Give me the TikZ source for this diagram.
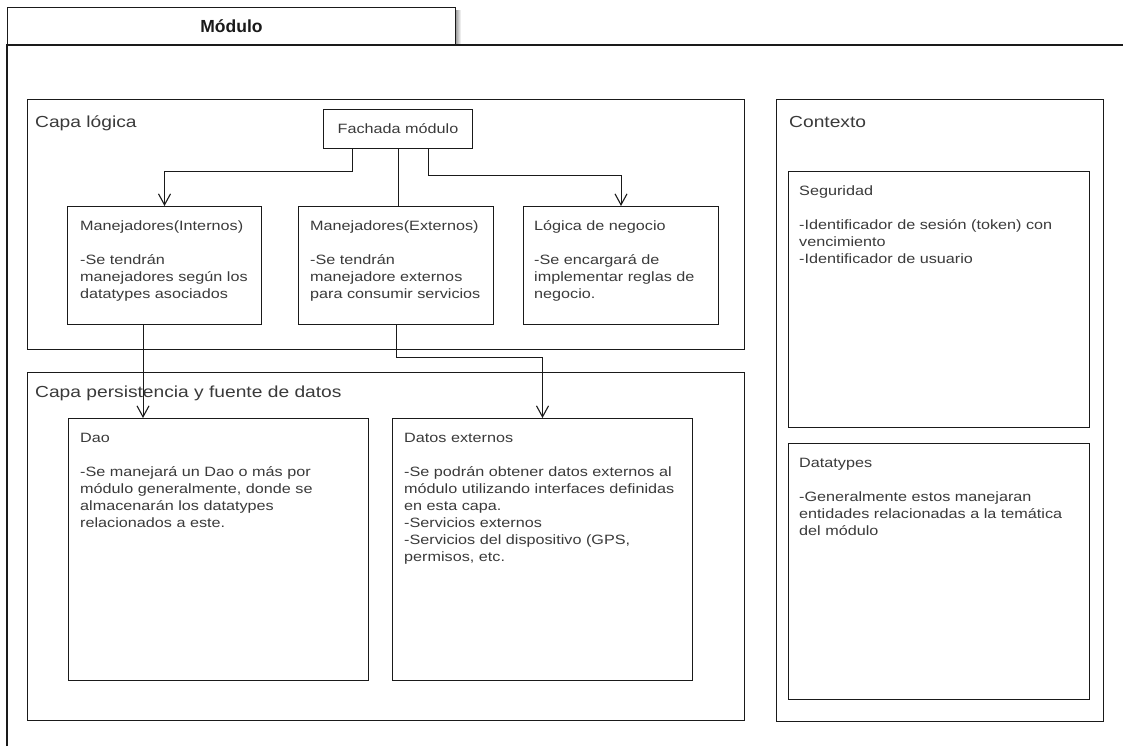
\documentclass[tikz,border=0pt]{standalone}
\usepackage{fontspec}
\setmainfont{Liberation Sans}[FakeStretch=1.2]
\newfontfamily\tabfont{Liberation Sans}
\usetikzlibrary{arrows.meta}

\definecolor{ink}{HTML}{1A1A1A}
\definecolor{txt}{HTML}{3A3A3A}

% multi-line block whose reference point is the first baseline
\newcommand\boxlines[1]{\vtop{\hsize=400pt\parindent=0pt\baselineskip=17pt\raggedright\leavevmode #1\par}}

\tikzset{
  frame/.style={draw=ink, line width=1pt, fill=white, inner sep=0pt, anchor=north west},
  body/.style={anchor=base west, inner sep=0pt, text=txt, font=\fontsize{13.5}{17}\selectfont},
  heading/.style={anchor=base west, inner sep=0pt, text=txt, font=\fontsize{16}{19}\selectfont},
  link/.style={draw=ink, line width=1pt},
  arr/.style={link, -{Straight Barb[length=11pt,width=12pt,line width=1.1pt]}},
}

\begin{document}
\begin{tikzpicture}[x=1pt, y=-1pt]
\useasboundingbox (0,0) rectangle (1123,746);

% module frame with its tab
\shade[left color=black!40, right color=white] (455.5,11) rectangle (461,45);
\node[frame, minimum width=448, minimum height=38] (tab) at (7,7) {};
\node[font=\tabfont\bfseries\fontsize{17.5}{20}\selectfont, text=ink] (tabtitle) at (tab.center) {Módulo};
\coordinate (fl) at (7,746);
\coordinate (fr) at (1123,45);
\draw[link, line width=1.2pt] (fl) |- (fr);

% layers
\node[frame, minimum width=717, minimum height=250] (logica) at (27,99) {};
\node[heading] (logica-t) at (35,127.5) {Capa lógica};

\node[frame, minimum width=717, minimum height=348] (pers) at (27,372) {};
\node[heading] (pers-t) at (35,397) {Capa persistencia y fuente de datos};

\node[frame, minimum width=327, minimum height=622] (ctx) at (776,99) {};
\node[heading] (ctx-t) at (789,128) {Contexto};

% logic layer boxes
\node[frame, minimum width=149, minimum height=39] (fach) at (323,109) {};
\node[text=txt, font=\fontsize{13.5}{17}\selectfont] (fach-t) at (fach.center) {Fachada módulo};

\node[frame, minimum width=194, minimum height=118] (int) at (67,206) {};
\node[body] (int-t) at (80,230.5) {\boxlines{Manejadores(Internos)\\[17pt]-Se tendrán\\manejadores según los\\datatypes asociados}};

\node[frame, minimum width=195, minimum height=118] (ext) at (298,206) {};
\node[body] (ext-t) at (310,230.5) {\boxlines{Manejadores(Externos)\\[17pt]-Se tendrán\\manejadore externos\\para consumir servicios}};

\node[frame, minimum width=195, minimum height=118] (neg) at (523,206) {};
\node[body] (neg-t) at (534,230.5) {\boxlines{Lógica de negocio\\[17pt]-Se encargará de\\implementar reglas de\\negocio.}};

% persistence layer boxes
\node[frame, minimum width=300, minimum height=262] (dao) at (68,418) {};
\node[body] (dao-t) at (80,442.5) {\boxlines{Dao\\[17pt]-Se manejará un Dao o más por\\módulo generalmente, donde se\\almacenarán los datatypes\\relacionados a este.}};

\node[frame, minimum width=300, minimum height=262] (dext) at (392,418) {};
\node[body] (dext-t) at (404,442.5) {\boxlines{Datos externos\\[17pt]-Se podrán obtener datos externos al\\módulo utilizando interfaces definidas\\en esta capa.\\-Servicios externos\\-Servicios del dispositivo (GPS,\\permisos, etc.}};

% context boxes
\node[frame, minimum width=301, minimum height=256] (seg) at (788,171) {};
\node[body] (seg-t) at (799,195.5) {\boxlines{Seguridad\\[17pt]-Identificador de sesión (token) con\\vencimiento\\-Identificador de usuario}};

\node[frame, minimum width=301, minimum height=256] (dtyp) at (788,443) {};
\node[body] (dtyp-t) at (799,467) {\boxlines{Datatypes\\[17pt]-Generalmente estos manejaran\\entidades relacionadas a la temática\\del módulo}};

% connectors
\draw[arr] (352,0 |- fach.south) -- (352,172) -| (int.north);
\draw[link] (fach.south) -- (fach.south |- ext.north);
\draw[arr] (428,0 |- fach.south) -- (428,176) -| (neg.north);
\draw[arr] (143,0 |- int.south) -- (143,0 |- dao.north);
\draw[arr] (ext.south) -- (ext.south |- 0,357) -| (dext.north);
\end{tikzpicture}
\end{document}
